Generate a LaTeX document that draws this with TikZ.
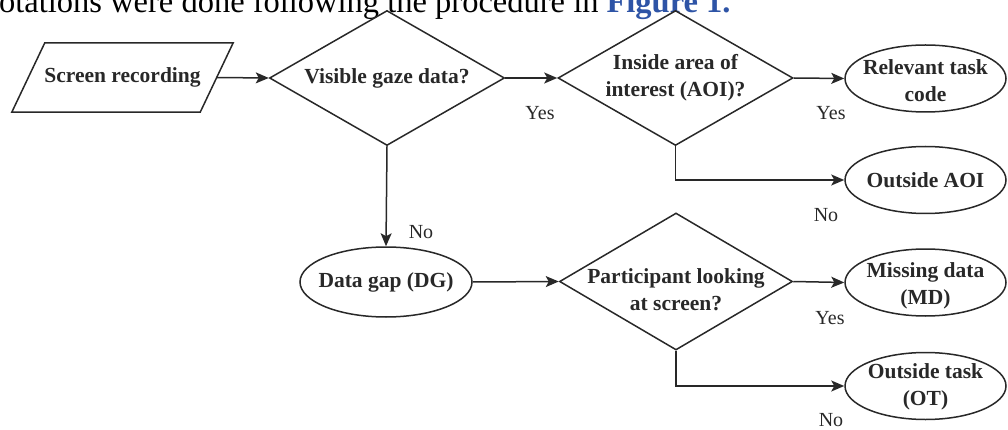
\documentclass[tikz,border=0pt]{standalone}
\usepackage{fontspec}
\setmainfont{Liberation Serif}
\usetikzlibrary{shapes.geometric,arrows.meta,calc}
\definecolor{ink}{RGB}{40,40,40}
\definecolor{linkblue}{RGB}{46,84,166}
\begin{document}
\begin{tikzpicture}[x=1pt,y=-1pt,
  line/.style={draw=ink, line width=1.5pt},
  arr/.style={line, -{Stealth[length=13pt,width=11pt,inset=3pt]}},
  dia/.style={diamond, draw=ink, line width=1.5pt, minimum width=235pt, minimum height=135pt, inner sep=0pt},
  ell/.style={ellipse, draw=ink, line width=1.5pt, minimum width=161pt, minimum height=67pt, inner sep=0pt},
  parabox/.style={rectangle, draw=none, minimum width=188pt, minimum height=69pt, inner sep=0pt},
  txt/.style={font=\fontsize{21.5}{27}\selectfont\bfseries, text=ink, align=center, inner sep=0pt},
  lab/.style={font=\fontsize{20}{24}\selectfont, text=ink, inner sep=0pt}
]
\useasboundingbox (0,0) rectangle (1008,430);
\clip (0,0) rectangle (1008,430);

% cropped line of running text at the top
\node[anchor=base west, inner sep=0pt, font=\fontsize{32.5}{38}\selectfont, text=black] (topline) at (-1,13)
  {otations were done following the procedure in \textcolor{linkblue}{\textbf{Figure 1.}}};

% shapes
\node[parabox] (scr) at (122.5,77.5) {};
\draw[line, line join=miter] ($(scr.south west)+(-16.5,0)$) -- ($(scr.north west)+(16.5,0)$)
  -- ($(scr.north east)+(16.5,0)$) -- ($(scr.south east)+(-16.5,0)$) -- cycle;
\node[txt] (scrt) at (scr) {Screen recording};

\node[dia] (d1) at (387,78) {};
\node[txt] (d1t) at (d1) {Visible gaze data?};

\node[dia] (d2) at (675.5,78) {};
\node[txt] (d2t) at (d2) {Inside area of\\interest (AOI)?};

\node[ell] (rel) at (925.5,78.5) {};
\node[txt] (relt) at ($(rel)+(0,2)$) {Relevant task\\code};

\node[ell] (aoi) at (925.5,180) {};
\node[txt] (aoit) at (aoi) {Outside AOI};

\node[ell, minimum width=172pt, minimum height=70pt] (dg) at (386,282) {};
\node[txt] (dgt) at (dg) {Data gap (DG)};

\node[dia, minimum width=233pt, minimum height=137pt] (d3) at (676,281.5) {};
\node[txt] (d3t) at ($(d3)+(0,8)$) {Participant looking\\at screen?};

\node[ell] (md) at (925.5,282.5) {};
\node[txt] (mdt) at ($(md)+(0,3)$) {Missing data\\(MD)};

\node[ell] (ot) at (925.5,386) {};
\node[txt] (ott) at ($(ot)+(0,1)$) {Outside task\\(OT)};

% connectors
\draw[arr] (scr.east) -- (d1.west);
\draw[arr] (d1.east) -- (d2.west);
\draw[arr] (d2.east) -- (rel.west);
\draw[arr] (d2.south) |- (aoi.west);
\draw[arr] (d1.south) -- (dg.north);
\draw[arr] (dg.east) -- (d3.west);
\draw[arr] (d3.east) -- (md.west);
\draw[arr] (d3.south) |- (ot.west);

% branch labels
\node[lab] (y1) at (540,113) {Yes};
\node[lab] (y2) at (831,113) {Yes};
\node[lab] (n1) at (826,215) {No};
\node[lab] (n2) at (421,232) {No};
\node[lab] (y3) at (830,318) {Yes};
\node[lab] (n3) at (831,420) {No};
\end{tikzpicture}
\end{document}
